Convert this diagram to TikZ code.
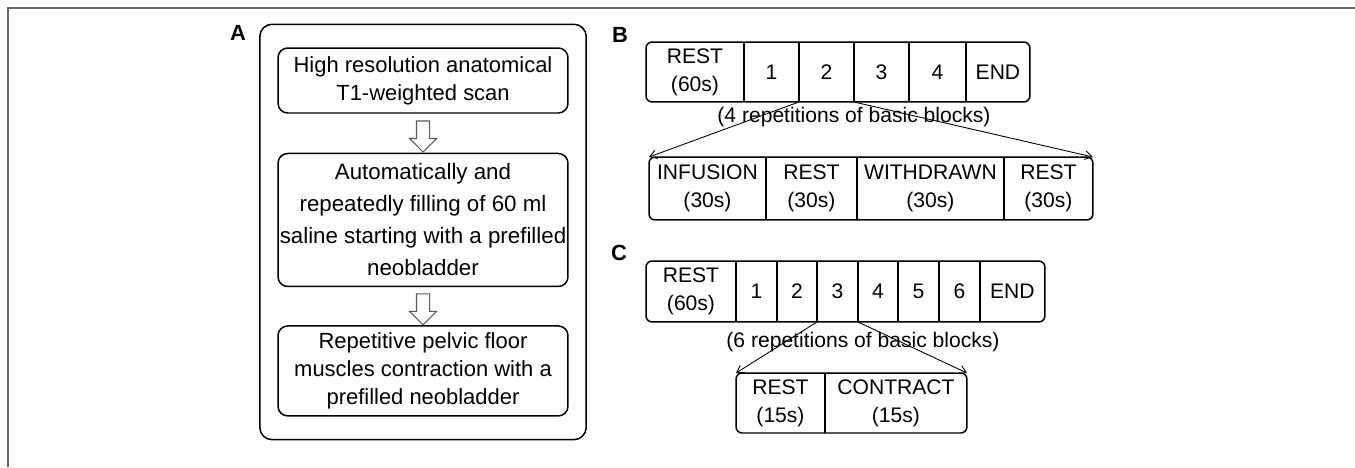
\documentclass[tikz,border=0pt]{standalone}
\usepackage{fontspec}
\setmainfont{Liberation Sans}
\usetikzlibrary{positioning, fit, calc, arrows.meta, shapes.arrows}

\begin{document}
\begin{tikzpicture}[
  x=0.02cm, y=-0.02cm,
  panel/.style={font=\bfseries\fontsize{12.5}{14}\selectfont, inner sep=0pt},
  stepbox/.style={rectangle, rounded corners=5.5pt, draw, line width=0.85pt,
                  minimum width=5.8cm, align=center, inner sep=0pt,
                  font=\fontsize{12.5}{15.9}\selectfont},
  outer/.style={rectangle, rounded corners=7pt, draw, line width=0.85pt},
  cell/.style={rectangle, inner sep=0pt, outer sep=0pt, align=center,
               minimum height=1.2cm, font=\fontsize{12}{16}\selectfont},
  row/.style={rectangle, rounded corners=3.5pt, draw, line width=0.85pt,
              inner sep=0pt, outer sep=0pt},
  divider/.style={line width=0.85pt},
  down/.style={single arrow, draw=black!65, fill=white, line width=0.6pt,
               shape border rotate=270, minimum height=0.62cm,
               minimum width=0.52cm, inner sep=0.12cm,
               single arrow head extend=0.14cm},
  zoomline/.style={-{Straight Barb[length=4pt,width=5pt]}, line width=0.5pt},
  note/.style={font=\fontsize{12}{14}\selectfont, inner sep=0pt}
]
\useasboundingbox (0,0) rectangle (1355,467);

% page frame
\draw[black!60, line width=1pt] (8,467) -- (8,8) -- (1355,8);

% panel A
\node[panel] (labA) at (238,33) {A};

\node[stepbox, minimum height=1.3cm] (scan) at (423,80.5)
  {High resolution anatomical\\T1-weighted scan};
\node[stepbox, minimum height=2.66cm, below=0.78cm of scan,
      font=\fontsize{12.7}{18.2}\selectfont] (filling)
  {Automatically and\\repeatedly filling of 60 ml\\saline starting with a prefilled\\neobladder};
\node[stepbox, minimum height=1.8cm, below=0.76cm of filling] (pelvic)
  {Repetitive pelvic floor\\muscles contraction with a\\prefilled neobladder};

\node[down] (arr1) at ($(scan.south)!0.5!(filling.north)$) {};
\node[down] (arr2) at ($(filling.south)!0.5!(pelvic.north)$) {};

\node[outer, inner xsep=0.35cm, inner ysep=0.46cm, fit=(scan)(pelvic)] (boxA) {};

% panel B
\node[panel] (labB) at (620,35) {B};

\node[cell, minimum width=1.96cm, anchor=north west] (b0) at (646,42) {REST\\(60s)};
\node[cell, minimum width=1.1cm, right=0pt of b0] (b1) {1};
\node[cell, minimum width=1.1cm, right=0pt of b1] (b2) {2};
\node[cell, minimum width=1.1cm, right=0pt of b2] (b3) {3};
\node[cell, minimum width=1.14cm, right=0pt of b3] (b4) {4};
\node[cell, minimum width=1.28cm, right=0pt of b4] (b5) {END};
\node[row, fit=(b0)(b5)] (rowB) {};
\foreach \i in {0,...,4}
  \draw[divider] (b\i.north east) -- (b\i.south east);

\node[note, below=0.1cm of b2.south east] (repB) {(4 repetitions of basic blocks)};

\node[cell, minimum width=2.34cm, minimum height=1.26cm, anchor=north west] (d0) at (649,157)
  {INFUSION\\(30s)};
\node[cell, minimum width=1.82cm, minimum height=1.26cm, right=0pt of d0] (d1) {REST\\(30s)};
\node[cell, minimum width=2.94cm, minimum height=1.26cm, right=0pt of d1] (d2) {WITHDRAWN\\(30s)};
\node[cell, minimum width=1.78cm, minimum height=1.26cm, right=0pt of d2] (d3) {REST\\(30s)};
\node[row, fit=(d0)(d3)] (blockB) {};
\foreach \i in {0,...,2}
  \draw[divider] (d\i.north east) -- (d\i.south east);

\draw[zoomline] (b2.south west) -- (d0.north west);
\draw[zoomline] (b2.south east) -- (d3.north east);

% panel C
\node[panel] (labC) at (619,253) {C};

\node[cell, minimum width=1.8cm, minimum height=1.22cm, anchor=north west] (c0) at (646,261)
  {REST\\(60s)};
\node[cell, minimum width=0.82cm, minimum height=1.22cm, right=0pt of c0] (c1) {1};
\node[cell, minimum width=0.8cm, minimum height=1.22cm, right=0pt of c1] (c2) {2};
\node[cell, minimum width=0.82cm, minimum height=1.22cm, right=0pt of c2] (c3) {3};
\node[cell, minimum width=0.8cm, minimum height=1.22cm, right=0pt of c3] (c4) {4};
\node[cell, minimum width=0.82cm, minimum height=1.22cm, right=0pt of c4] (c5) {5};
\node[cell, minimum width=0.82cm, minimum height=1.22cm, right=0pt of c5] (c6) {6};
\node[cell, minimum width=1.3cm, minimum height=1.22cm, right=0pt of c6] (c7) {END};
\node[row, fit=(c0)(c7)] (rowC) {};
\foreach \i in {0,...,6}
  \draw[divider] (c\i.north east) -- (c\i.south east);

\node[note, below=0.2cm of c3.south east, xshift=0.1cm] (repC) {(6 repetitions of basic blocks)};

\node[cell, minimum width=1.78cm, anchor=north west] (e0) at (736,373) {REST\\(15s)};
\node[cell, minimum width=2.84cm, right=0pt of e0] (e1) {CONTRACT\\(15s)};
\node[row, fit=(e0)(e1)] (blockC) {};
\draw[divider] (e0.north east) -- (e0.south east);

\draw[zoomline] (c3.south west) -- (e0.north west);
\draw[zoomline] (c3.south east) -- (e1.north east);

\end{tikzpicture}
\end{document}
